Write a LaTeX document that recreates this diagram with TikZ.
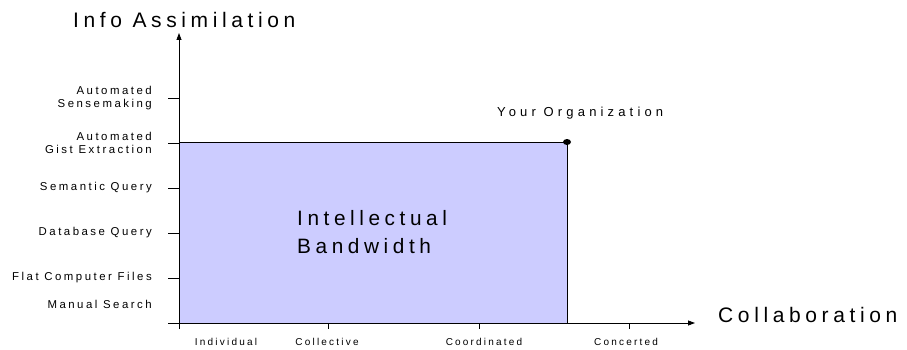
\documentclass[tikz,border=0pt]{standalone}
\usepackage{fontspec}
\setmainfont[LetterSpace=22]{Liberation Sans}
\newfontfamily\wideface[LetterSpace=32]{Liberation Sans}
\usepackage{tikz}
\usetikzlibrary{arrows.meta}
\definecolor{bandfill}{RGB}{204,204,255}
\tikzstyle{axis}=[line width=.8pt, -{Triangle[length=7pt,width=5pt]}]
\tikzstyle{tickmark}=[line width=.7pt]
\tikzstyle{shaded}=[fill=bandfill, draw=black, line width=.8pt]
\tikzstyle{levellabel}=[anchor=east, align=right, inner sep=0pt, font=\fontsize{11.4}{12.5}\selectfont]
\tikzstyle{modelabel}=[anchor=base, inner sep=0pt, font=\fontsize{10}{12}\selectfont]
\tikzstyle{axistitle}=[inner sep=0pt, font=\fontsize{21}{24}\selectfont]
\newcommand{\ylevel}[3]{
	\draw[tickmark] (168,#1) -- (179,#1);
	\node[levellabel] (#2) at (152,#1) {#3};
}
\newcommand{\xmode}[4]{
	\draw[tickmark] (#1,26) -- (#1,20);
	\node[modelabel] (#3) at (#2,4) {#4};
}

\begin{document}
\begin{tikzpicture}[x=1pt,y=1pt]
	\useasboundingbox (0,0) rectangle (907,349);
	\coordinate (origin) at (179,26);
	\coordinate (org) at (567,207);
	\coordinate (xstart) at (168,26);
	\coordinate (xend) at (695,26);
	\coordinate (ystart) at (179,20);
	\coordinate (yend) at (179,316);
	\filldraw[shaded] (origin) rectangle (org);
	\draw[axis] (xstart) -- (xend);
	\draw[axis] (ystart) -- (yend);
	\fill (org) ellipse (4pt and 3pt);
	\ylevel{251}{sense}{Automated\\Sensemaking}
	\ylevel{206}{gist}{Automated\\Gist Extraction}
	\ylevel{161}{semantic}{Semantic Query}
	\ylevel{116}{database}{Database Query}
	\ylevel{71}{flat}{Flat Computer Files}
	\node[levellabel] (manual) at (152,45) {Manual Search};
	\node[modelabel] (individual) at (226,4) {Individual};
	\xmode{328}{327}{collective}{Collective}
	\xmode{479}{484}{coordinated}{Coordinated}
	\xmode{629}{626}{concerted}{Concerted}
	\node[axistitle, anchor=base west] (infoaxis) at (73,321) {Info Assimilation};
	\node[axistitle, anchor=base west] (collabaxis) at (718,27) {Collaboration};
	\node[anchor=base west, inner sep=0pt, font=\wideface\fontsize{13}{15}\selectfont] (yourorg) at (497,233) {Your Organization};
	\node[anchor=west, align=left, inner sep=0pt, font=\fontsize{20.8}{28}\selectfont] (bandwidth) at (297,117) {Intellectual\\Bandwidth};
\end{tikzpicture}
\end{document}
